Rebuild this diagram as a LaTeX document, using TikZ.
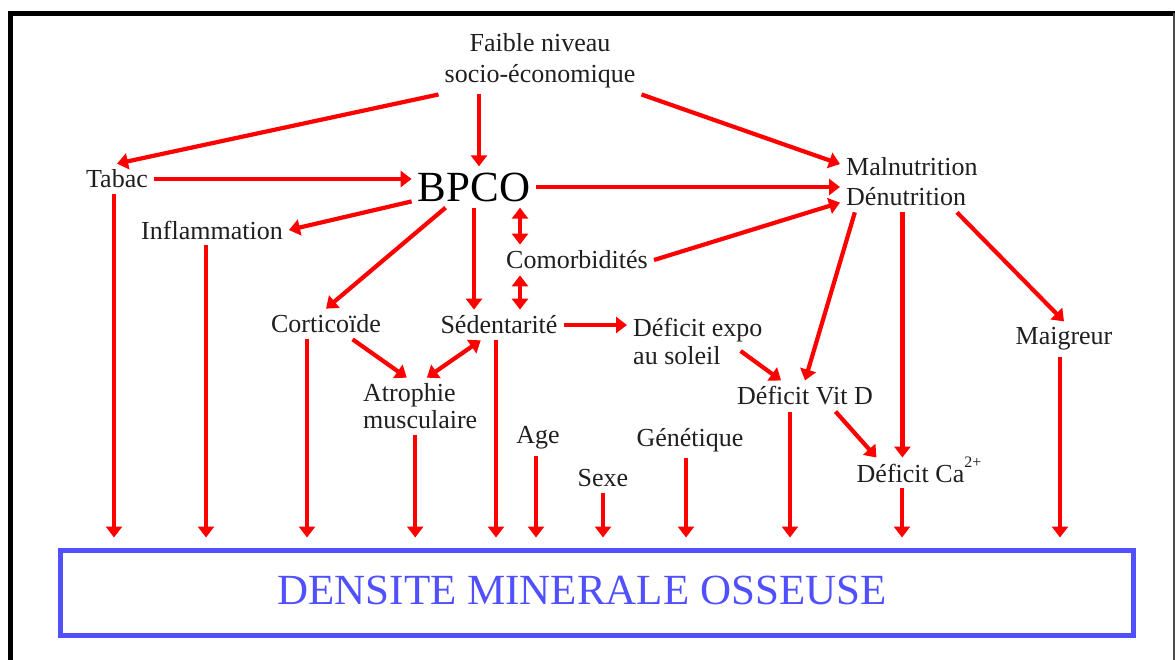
\documentclass[tikz,border=0pt]{standalone}
\usepackage{fontspec}
\setmainfont{Liberation Serif}
\usepackage{tikz}
\usetikzlibrary{arrows.meta}
\usetikzlibrary{positioning}
\definecolor{fleche}{RGB}{255,0,0}
\definecolor{dmobleu}{RGB}{80,80,255}
\tikzset{
    factor/.style={
           inner sep=6pt,
           text=black!88,
           font=\fontsize{26}{31}\selectfont,
           },
    link/.style={
           draw=fleche, line width=4.2pt,
           -{Triangle[length=11pt,width=16pt]},
           },
    dlink/.style={
           link,
           {Triangle[length=11pt,width=16pt]}-{Triangle[length=11pt,width=16pt]},
           },
}

\begin{document}
\begin{tikzpicture}[x=1pt,y=-1pt]

    \useasboundingbox (0,0) rectangle (1175,660);
    \draw[line width=5.5pt] (10.5,660) -- (10.5,13.5) -- (1175,13.5);
    \draw[black!70,line width=1.8pt] (1174,13.5) -- (1174,660);

    \node[factor,align=center] (faible) at (540,61) {Faible niveau\\socio-économique};
    \node[factor] (tabac) at (117,179) {Tabac};
    \node[factor,font=\fontsize{43}{48}\selectfont,text=black] (bpco) at (474,187) {BPCO};
    \node[factor,align=left,anchor=west,font=\fontsize{26}{30}\selectfont]
        (maln) at (840,182) {Malnutrition\\Dénutrition};
    \node[factor] (inflam) at (212,230) {Inflammation};
    \node[factor] (comorb) at (577,260) {Comorbidités};
    \node[factor] (cortico) at (326,324) {Corticoïde};
    \node[factor] (sedent) at (499,325) {Sédentarité};
    \node[factor,align=left,anchor=west,font=\fontsize{26}{28}\selectfont]
        (expo) at (627,341) {Déficit expo\\au soleil};
    \node[factor,align=left,anchor=west,font=\fontsize{26}{27}\selectfont]
        (atrophie) at (357,406.5) {Atrophie\\musculaire};
    \node[factor] (maigreur) at (1064,339) {Maigreur};
    \node[factor] (vitd) at (805,396) {Déficit Vit D};
    \node[factor] (age) at (538,438) {Age};
    \node[factor] (genet) at (690,440) {Génétique};
    \node[factor] (sexe) at (603,478) {Sexe};
    \node[factor] (ca) at (919,473)
        {Déficit Ca\smash{\raisebox{15pt}{\fontsize{16}{16}\selectfont 2+}}};

    \node[draw=dmobleu,line width=5pt,minimum width=1072.5pt,minimum height=85pt,inner sep=0pt]
        (dmo) at (596.75,592.5) {};
    \node[text=dmobleu,font=\fontsize{43}{48}\selectfont] (dmotext) at (582,590)
        {DENSITE MINERALE OSSEUSE};

    \draw[link] (faible.south west) -- (tabac.north);
    \draw[link] ([xshift=5pt]faible.south -| bpco.north) -- ([xshift=5pt]bpco.north);
    \draw[link] (faible.south east) -- (maln.166);
    \draw[link] (tabac.east) -- (tabac.east -| bpco.west);
    \draw[link] (bpco.east) -- (bpco.east -| maln.west);
    \draw[link] (comorb.east) -- (maln.196);
    \draw[link] (bpco.193) -- (inflam.east);
    \draw[link] (bpco.216) -- (cortico.north);
    \draw[link] (bpco.south) -- (bpco.south |- sedent.north);
    \draw[dlink] ([xshift=-57pt]comorb.north) -- ([xshift=-57pt]comorb.north |- bpco.south);
    \draw[dlink] ([xshift=-57pt]comorb.south) -- ([xshift=-57pt]comorb.south |- sedent.north);
    \draw[link] (sedent.east) -- (sedent.east -| expo.west);
    \draw[link] (cortico.-30) -- (atrophie.115);
    \draw[dlink] (atrophie.77) -- (sedent.-140);
    \draw[link] ([xshift=-28pt,yshift=-10pt]expo.east) -- (vitd.147);
    \draw[link] (maln.-152) -- (vitd.north);
    \draw[link] ([xshift=-9.5pt]maln.south) -- ([xshift=-9.5pt]maln.south |- ca.north);
    \draw[link] (maln.-34) -- (maigreur.north);
    \draw[link] (vitd.-27) -- (ca.160);

    \foreach \n/\dx in {tabac/-3,inflam/-6,cortico/-19,atrophie/-5,sedent/-3,age/-2,
                        sexe/0,genet/-4,vitd/-15,ca/-17,maigreur/-4}
        \draw[link,shorten >=10pt] ([xshift=\dx pt]\n.south) -- ([xshift=\dx pt]\n.south |- dmo.north);

\end{tikzpicture}
\end{document}
